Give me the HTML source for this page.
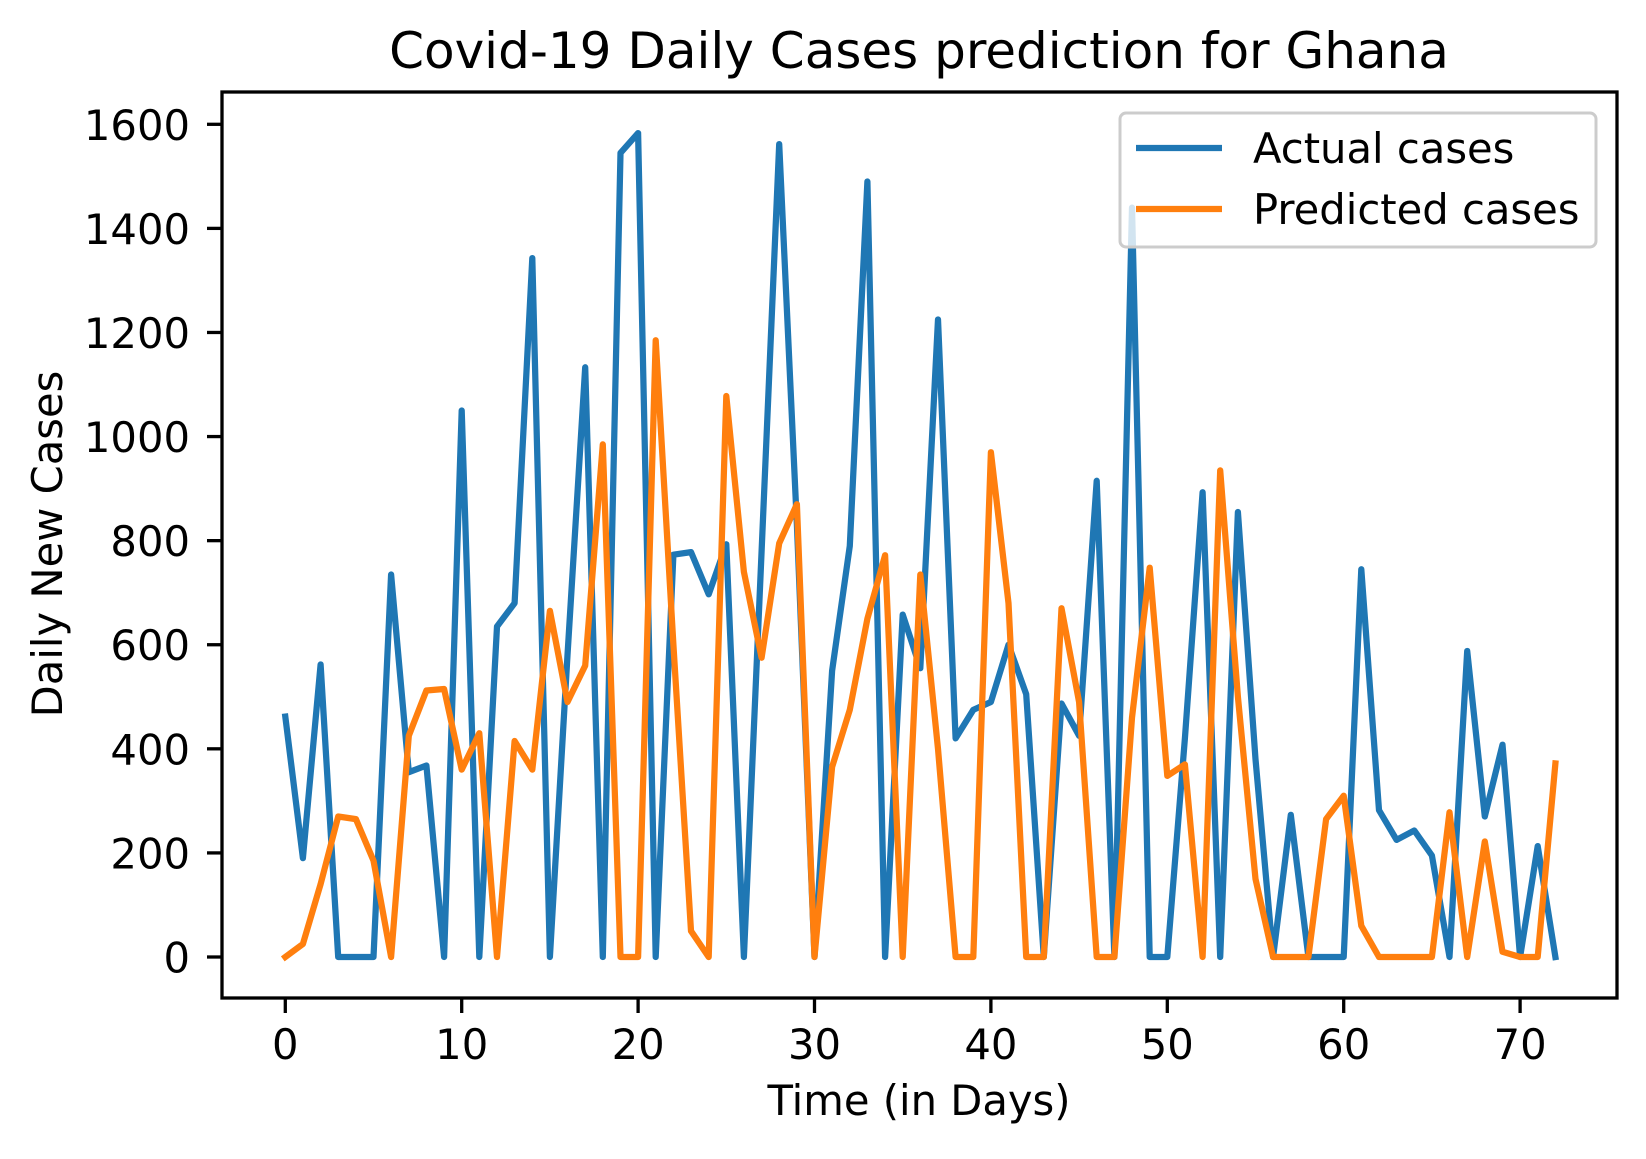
<!DOCTYPE html>
<html><head><meta charset="utf-8"><style>
html,body{margin:0;padding:0;background:#fff;}
svg text{font-family:"DejaVu Sans","Liberation Sans",sans-serif;fill:#000;}
</style></head><body>
<svg id="chart" width="1646" height="1154" viewBox="0 0 1646 1154" xmlns="http://www.w3.org/2000/svg">
<text x="919" y="68" font-size="50" text-anchor="middle">Covid-19 Daily Cases prediction for Ghana</text>
<g id="ticks"></g>
<g id="lines"></g>
<rect x="222" y="92" width="1395" height="906" fill="none" stroke="#000" stroke-width="3.3"/>
<text x="919" y="1115" font-size="41.7" text-anchor="middle">Time (in Days)</text>
<text transform="translate(62,544) rotate(-90)" font-size="41.7" text-anchor="middle">Daily New Cases</text>
<g>
<rect x="1120" y="113" width="476" height="134" rx="6" fill="#fff" fill-opacity="0.8" stroke="#ccc" stroke-width="3"/>
<line x1="1136" y1="148" x2="1222" y2="148" stroke="#1f77b4" stroke-width="6.25"/>
<text x="1253" y="163" font-size="41.7">Actual cases</text>
<line x1="1136" y1="209" x2="1222" y2="209" stroke="#ff7f0e" stroke-width="6.25"/>
<text x="1253" y="224" font-size="41.7">Predicted cases</text>
</g>
</svg>
<script>
const actual=[462,190,562,0,0,0,735,355,368,0,1050,0,635,680,1343,0,580,1133,0,1545,1583,0,773,778,697,793,0,780,1562,830,0,550,790,1490,0,658,555,1225,420,475,490,600,505,0,487,425,915,0,1440,0,0,420,893,0,855,380,0,273,0,0,0,745,282,225,243,195,0,588,270,408,0,213,0];
const predicted=[0,25,140,270,265,185,0,425,512,515,360,430,0,415,360,665,490,560,985,0,0,1185,600,50,0,1078,740,575,795,870,0,365,475,650,772,0,735,400,0,0,970,680,0,0,670,490,0,0,460,748,348,370,0,935,500,150,0,0,0,265,310,60,0,0,0,0,278,0,222,10,0,0,372];
const xTicks=[0,10,20,30,40,50,60,70];
const yTicks=[0,200,400,600,800,1000,1200,1400,1600];
const NS="http://www.w3.org/2000/svg";
function xs(v){return 285.3+v*17.64;}
function ys(v){return 957-v*(957-124.3)/1600;}
const tg=document.getElementById('ticks');
function mk(tag,attrs,parent){const e=document.createElementNS(NS,tag);for(const k in attrs)e.setAttribute(k,attrs[k]);parent.appendChild(e);return e;}
xTicks.forEach(t=>{
 const l=mk('line',{x1:xs(t),x2:xs(t),y1:998,y2:1013,stroke:'#000','stroke-width':3.3},tg);
 
 
 const tx=mk('text',{x:xs(t),y:1059,'font-size':41.7,'text-anchor':'middle'},tg);
 tx.textContent=t;
 
 
});
yTicks.forEach(t=>{
 const l=mk('line',{x1:207,x2:222,y1:ys(t),y2:ys(t),stroke:'#000','stroke-width':3.3},tg);
 
 
 const tx=mk('text',{x:190,y:ys(t)+15.5,'font-size':41.7,'text-anchor':'end'},tg);
 tx.textContent=t;
 
 
});
const lg=document.getElementById('lines');
function pts(arr){return arr.map((v,i)=>xs(i).toFixed(1)+','+ys(v).toFixed(1)).join(' ');}
const a=mk('polyline',{points:pts(actual),fill:'none',stroke:'#1f77b4','stroke-width':6.25,'stroke-linejoin':'round','stroke-linecap':'square'},lg);


const p=mk('polyline',{points:pts(predicted),fill:'none',stroke:'#ff7f0e','stroke-width':6.25,'stroke-linejoin':'round','stroke-linecap':'square'},lg);


</script>
</body></html>
